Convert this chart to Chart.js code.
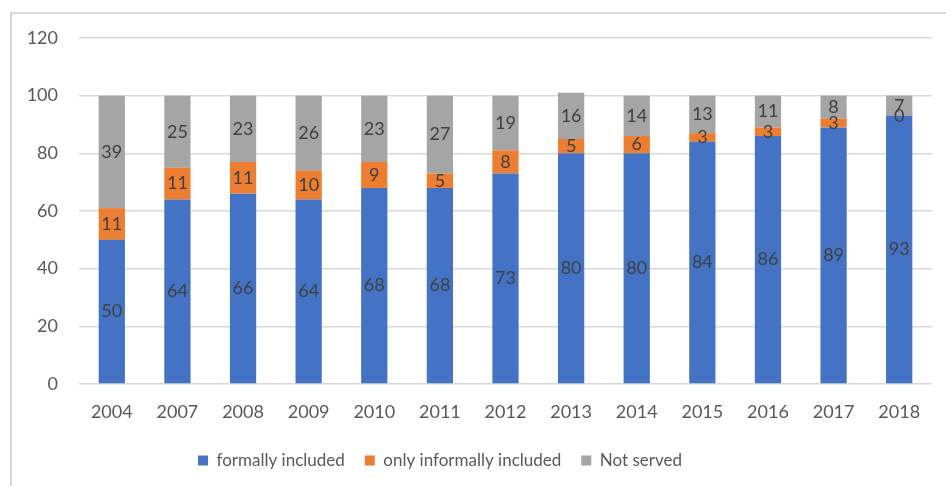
<!DOCTYPE html>
<html>
<head>
<meta charset="utf-8">
<script src="https://cdn.jsdelivr.net/npm/chart.js@4/dist/chart.umd.min.js"></script>
<style>
  html, body { margin: 0; padding: 0; background: #fff; }
  #wrap { position: relative; width: 946px; height: 486px; }
</style>
</head>
<body>
<div id="wrap"><canvas id="myChart" width="946" height="486"></canvas></div>
<script>
const years = ['2004', '2007', '2008', '2009', '2010', '2011', '2012', '2013', '2014', '2015', '2016', '2017', '2018'];
const formallyIncluded = [50, 64, 66, 64, 68, 68, 73, 80, 80, 84, 86, 89, 93];
const informallyIncluded = [11, 11, 11, 10, 9, 5, 8, 5, 6, 3, 3, 3, 0];
const notServed = [39, 25, 23, 26, 23, 27, 19, 16, 14, 13, 11, 8, 7];

const fontFamily = 'Lato, "Open Sans", sans-serif';

// values written in the middle of each segment
const barLabels = {
  id: 'barLabels',
  afterDatasetsDraw(chart) {
    const ctx = chart.ctx;
    ctx.save();
    ctx.font = '18px ' + fontFamily;
    ctx.fillStyle = '#404040';
    ctx.textAlign = 'center';
    ctx.textBaseline = 'middle';
    chart.data.datasets.forEach((ds, i) => {
      chart.getDatasetMeta(i).data.forEach((bar, j) => {
        const p = bar.getCenterPoint();
        ctx.fillText(String(ds.data[j]), p.x, p.y);
      });
    });
    ctx.restore();
  }
};

// light frame on top and left like the original
const frame = {
  id: 'frame',
  beforeDraw(chart) {
    const ctx = chart.ctx;
    ctx.save();
    ctx.strokeStyle = '#d9d9d9';
    ctx.lineWidth = 2;
    ctx.beginPath();
    ctx.moveTo(11, 486);
    ctx.lineTo(11, 13);
    ctx.lineTo(946, 13);
    ctx.stroke();
    ctx.restore();
  }
};

// the legend in the original sits a bit left of centre
const legendShift = {
  id: 'legendShift',
  afterLayout(chart) {
    if (chart.legend) chart.legend.right -= 52;
  }
};

new Chart(document.getElementById('myChart'), {
  type: 'bar',
  data: {
    labels: years,
    datasets: [
      { label: 'formally included', data: formallyIncluded, backgroundColor: '#4472c4' },
      { label: 'only informally included', data: informallyIncluded, backgroundColor: '#ed7d31' },
      { label: 'Not served', data: notServed, backgroundColor: '#a5a5a5' }
    ]
  },
  options: {
    responsive: false,
    animation: false,
    layout: { padding: { top: 38, right: 14, bottom: 7, left: 0 } },
    datasets: { bar: { barPercentage: 0.8, categoryPercentage: 0.5, borderWidth: 0 } },
    plugins: {
      legend: {
        position: 'bottom',
        labels: {
          boxWidth: 10, boxHeight: 10, padding: 20,
          color: '#595959',
          font: { family: fontFamily, size: 17 }
        }
      },
      tooltip: { enabled: false }
    },
    scales: {
      x: {
        stacked: true,
        grid: { display: false, drawTicks: false },
        border: { display: false },
        ticks: { color: '#595959', padding: 17, font: { family: fontFamily, size: 18 } },
        afterFit(scale) { scale.height = 48; }
      },
      y: {
        stacked: true,
        min: 0, max: 120,
        ticks: { stepSize: 20, color: '#595959', padding: 21, font: { family: fontFamily, size: 18 } },
        grid: { color: '#d9d9d9', lineWidth: 1.5, drawTicks: false },
        border: { display: false },
        afterFit(scale) { scale.width = 79; }
      }
    }
  },
  plugins: [barLabels, frame, legendShift]
});
</script>
</body>
</html>
